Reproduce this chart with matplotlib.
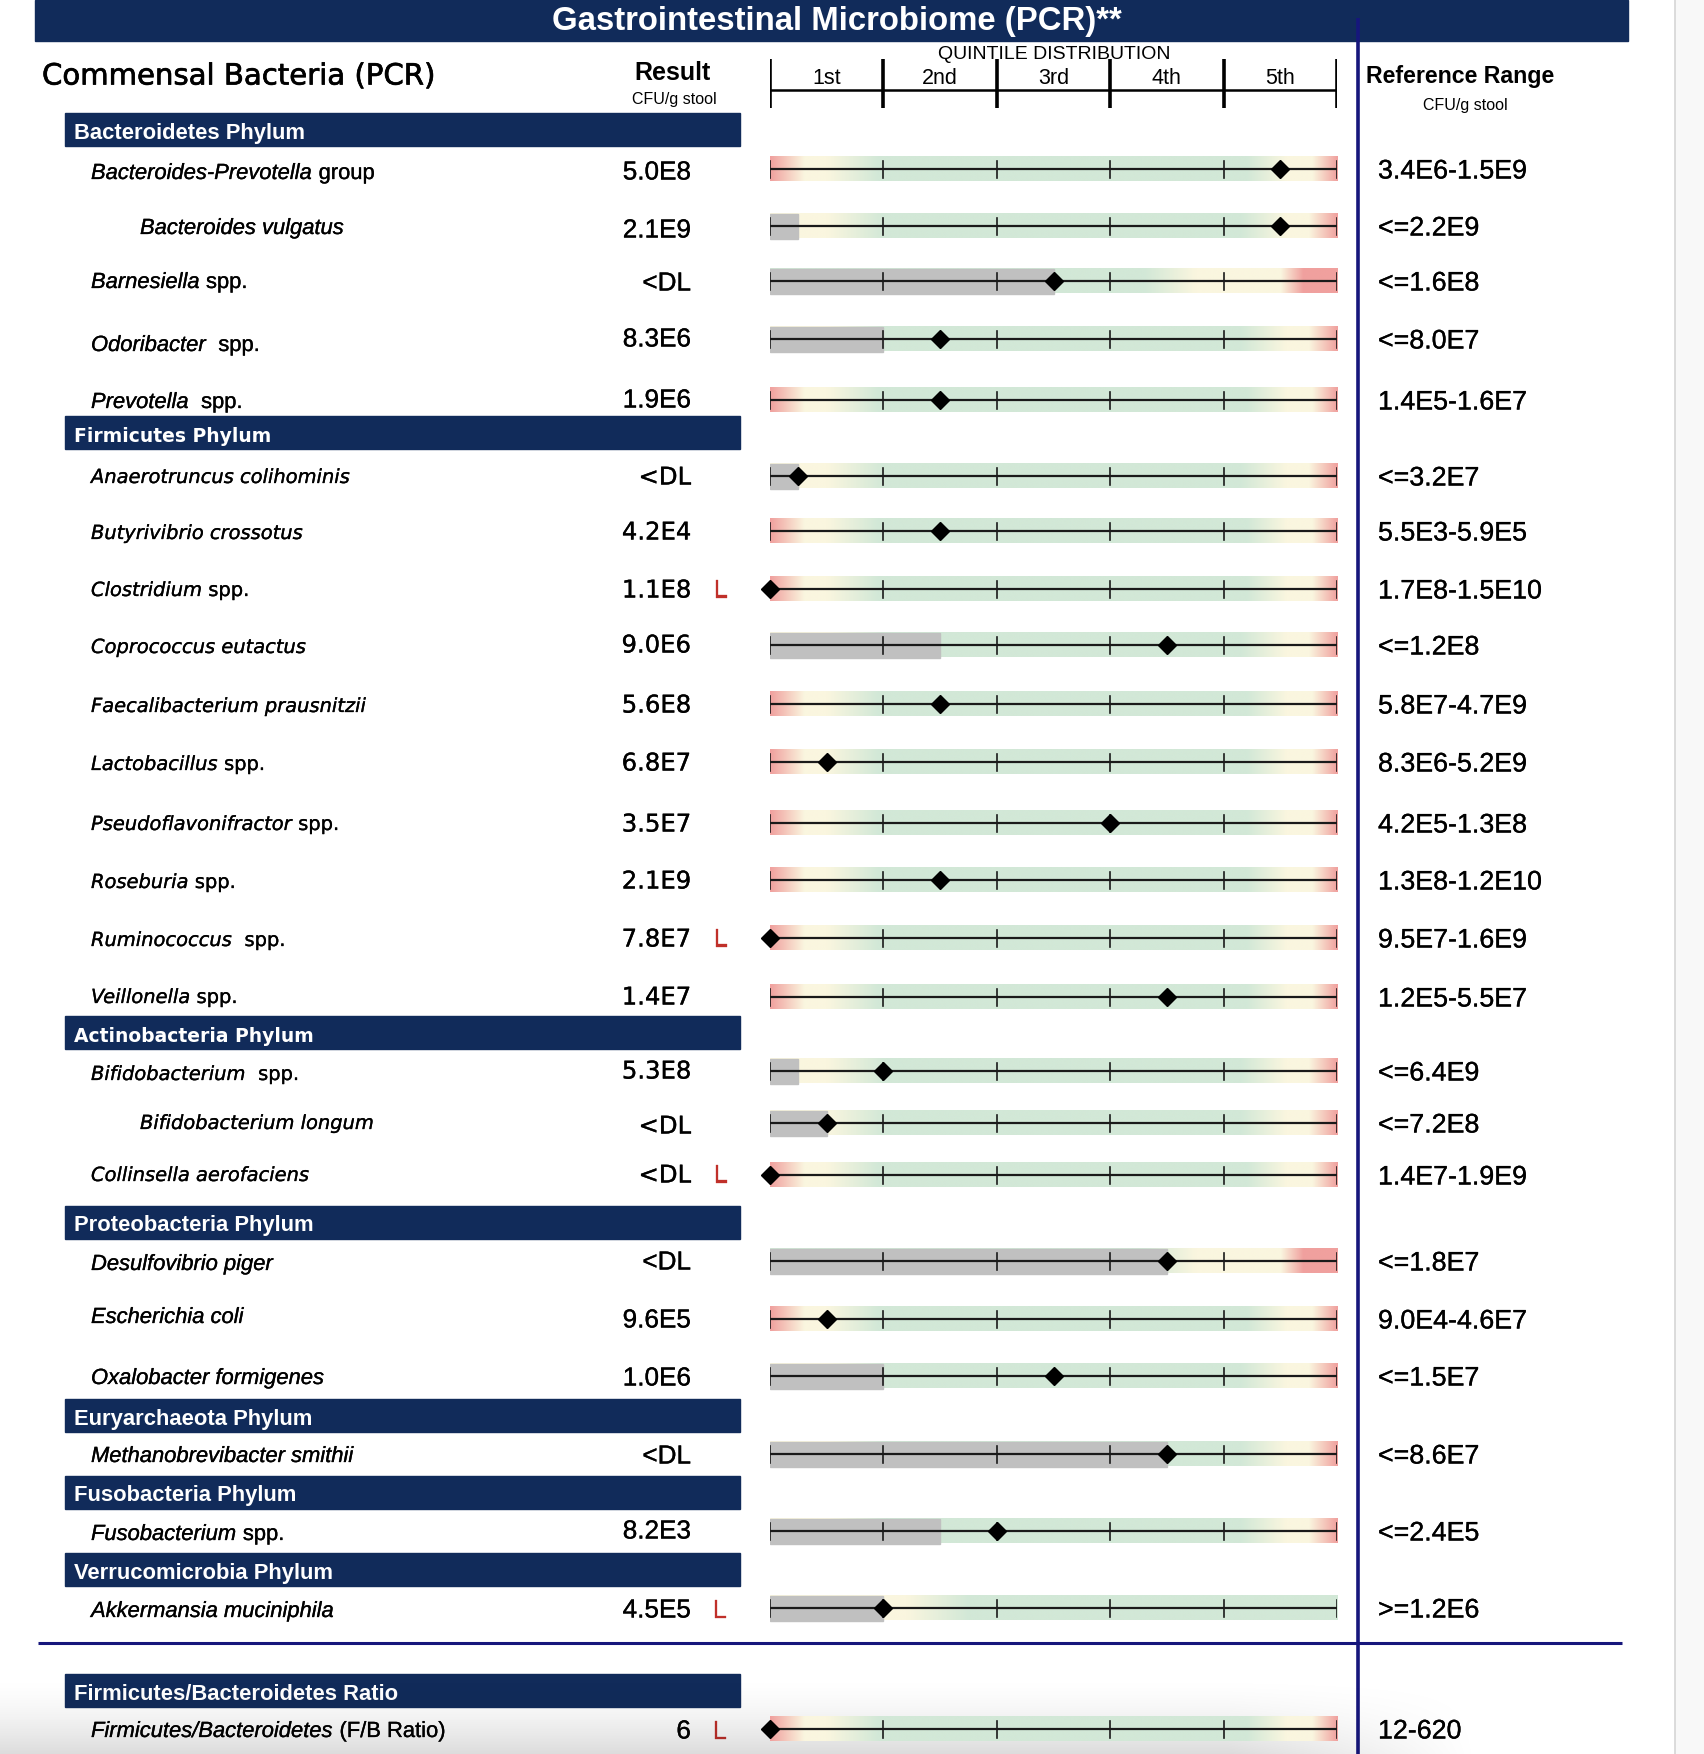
import matplotlib
matplotlib.use("Agg")
import matplotlib.pyplot as plt
import matplotlib.patheffects as pe
import numpy as np
from matplotlib.colors import to_rgb
from matplotlib.patches import Rectangle

# ---------------- data ----------------
title = "Gastrointestinal Microbiome (PCR)**"
section_title = "Commensal Bacteria (PCR)"
quintile_labels = ["1st", "2nd", "3rd", "4th", "5th"]

phyla = ["Bacteroidetes Phylum", "Firmicutes Phylum", "Actinobacteria Phylum",
         "Proteobacteria Phylum", "Euryarchaeota Phylum", "Fusobacteria Phylum",
         "Verrucomicrobia Phylum", "Firmicutes/Bacteroidetes Ratio"]

name_italic = ["Bacteroides-Prevotella", "Bacteroides vulgatus", "Barnesiella", "Odoribacter",
               "Prevotella", "Anaerotruncus colihominis", "Butyrivibrio crossotus", "Clostridium",
               "Coprococcus eutactus", "Faecalibacterium prausnitzii", "Lactobacillus",
               "Pseudoflavonifractor", "Roseburia", "Ruminococcus", "Veillonella",
               "Bifidobacterium", "Bifidobacterium longum", "Collinsella aerofaciens",
               "Desulfovibrio piger", "Escherichia coli", "Oxalobacter formigenes",
               "Methanobrevibacter smithii", "Fusobacterium", "Akkermansia muciniphila",
               "Firmicutes/Bacteroidetes"]
name_plain = [" group", "", " spp.", "  spp.", "  spp.", "", "", " spp.", "", "", " spp.",
              " spp.", " spp.", "  spp.", " spp.", "  spp.", "", "", "", "", "", "", " spp.",
              "", " (F/B Ratio)"]
name_phylum = [0, 0, 0, 0, 0, 1, 1, 1, 1, 1, 1, 1, 1, 1, 1, 2, 2, 2, 3, 3, 3, 4, 5, 6, 7]
name_sub = [0, 1, 0, 0, 0, 0, 0, 0, 0, 0, 0, 0, 0, 0, 0, 0, 1, 0, 0, 0, 0, 0, 0, 0, 0]

results = ["5.0E8", "2.1E9", "<DL", "8.3E6", "1.9E6", "<DL", "4.2E4", "1.1E8", "9.0E6",
           "5.6E8", "6.8E7", "3.5E7", "2.1E9", "7.8E7", "1.4E7", "5.3E8", "<DL", "<DL",
           "<DL", "9.6E5", "1.0E6", "<DL", "8.2E3", "4.5E5", "6"]
flags = ["", "", "", "", "", "", "", "L", "", "", "", "", "", "L", "", "", "", "L",
         "", "", "", "", "", "L", "L"]
# marker position on the quintile scale (0 = low end, 5 = high end)
quintile_pos = [4.5, 4.5, 2.5, 1.5, 1.5, 0.25, 1.5, 0.0, 3.5, 1.5, 0.5, 3.0, 1.5, 0.0, 3.5,
                1.0, 0.5, 0.0, 3.5, 0.5, 2.5, 3.5, 2.0, 1.0, 0.0]
# extent of the below-detection (grey) zone on the quintile scale
below_dl = [0, 0.25, 2.5, 1.0, 0, 0.25, 0, 0, 1.5, 0, 0, 0, 0, 0, 0, 0.25, 0.5, 0,
            3.5, 0, 1.0, 3.5, 1.5, 1.0, 0]
range_kind = ["both", "upper", "upper_high", "upper", "both", "upper", "both", "both", "upper",
              "both", "both", "both", "both", "both", "both", "upper", "upper", "both",
              "upper_high", "both", "upper", "upper", "upper", "lower", "both"]
ref_ranges = ["3.4E6-1.5E9", "<=2.2E9", "<=1.6E8", "<=8.0E7", "1.4E5-1.6E7", "<=3.2E7",
              "5.5E3-5.9E5", "1.7E8-1.5E10", "<=1.2E8", "5.8E7-4.7E9", "8.3E6-5.2E9",
              "4.2E5-1.3E8", "1.3E8-1.2E10", "9.5E7-1.6E9", "1.2E5-5.5E7", "<=6.4E9",
              "<=7.2E8", "1.4E7-1.9E9", "<=1.8E7", "9.0E4-4.6E7", "<=1.5E7", "<=8.6E7",
              "<=2.4E5", ">=1.2E6", "12-620"]

# ---------------- layout (pixels) & style ----------------
W, H = 1704, 1754
row_y = [169, 226, 281, 339, 400, 476, 531, 589, 645, 704, 762, 823, 880, 938, 997,
         1071, 1123, 1175, 1261, 1319, 1376, 1454, 1531, 1608, 1729]
name_y = [171, 226, 280, 343, 400, 475, 531, 588, 645, 704, 762, 822, 880, 938, 995,
          1072, 1121, 1173, 1262, 1315, 1376, 1454, 1532, 1609, 1729]
value_y = [170, 228, 281, 337, 398, 475, 530, 588, 643, 703, 761, 822, 879, 937, 995,
           1069, 1124, 1173, 1260, 1318, 1376, 1454, 1529, 1608, 1729]
header_top = [113, 416, 1016, 1206, 1399, 1476, 1553, 1674]
header_h = 33
verdana_phyla = {1, 2}
TDY = 2.5  # text baseline nudge

NAVY = "#112b5a"
LINE_BLUE = "#16167c"
GRAY = "#c0c0c0"
GREEN = "#d2e8d7"
CREAM = "#faf6df"
RED = "#f0a09e"
FLAG_RED = "#c0302a"
ARIAL = "Liberation Sans"
VERD = "DejaVu Sans"
HEAVY = [pe.withStroke(linewidth=0.22, foreground="black")]
HEAVY_R = [pe.withStroke(linewidth=0.22, foreground=FLAG_RED)]

stops = {
    "both": [(0, RED), (0.3, CREAM), (0.5, CREAM), (0.95, GREEN), (4.2, GREEN),
             (4.55, CREAM), (4.78, CREAM), (5.0, RED)],
    "upper": [(0, CREAM), (0.5, CREAM), (1.0, GREEN), (4.15, GREEN), (4.55, CREAM),
              (4.75, CREAM), (5.0, RED)],
    "upper_high": [(0, GREEN), (3.3, GREEN), (3.75, CREAM), (4.5, CREAM), (4.7, RED),
                   (5.0, RED)],
    "lower": [(0, CREAM), (1.2, CREAM), (1.75, GREEN), (5.0, GREEN)],
}


def gradient(kind, n=600):
    xs = np.linspace(0, 5, n)
    pts = stops[kind]
    px = [p[0] for p in pts]
    cols = np.array([to_rgb(p[1]) for p in pts])
    img = np.stack([np.interp(xs, px, cols[:, c]) for c in range(3)], axis=-1)
    return img[np.newaxis, :, :]


fig = plt.figure(figsize=(W / 100, H / 100), dpi=100)
ax = fig.add_axes([0, 0, 1, 1])
ax.set_xlim(0, W)
ax.set_ylim(H, 0)
ax.axis("off")

q0, q1 = 770, 1337
qax = fig.add_axes([q0 / W, 0, (q1 - q0) / W, 1])
qax.set_xlim(0, 5)
qax.set_ylim(H, 0)
qax.axis("off")

# right page edge
ax.add_patch(Rectangle((1675, 0), W - 1675, H, color="#f8f8f8", zorder=0))
ax.plot([1675, 1675], [0, H], color="#d6d6d6", lw=1.2, zorder=1)

# title bar
ax.add_patch(Rectangle((35, 0), 1628 - 35, 41, color=NAVY, zorder=1))
ax.text(837, 19 + TDY, title, color="white", fontsize=23.7, fontweight="bold", family=ARIAL,
        ha="center", va="center", zorder=3)

# column headings
ax.text(42, 74 + TDY, section_title, fontsize=21, family=VERD, ha="left", va="center",
        path_effects=[pe.withStroke(linewidth=0.5, foreground="black")])
ax.text(672, 70 + TDY, "Result", fontsize=18, fontweight="bold", family=ARIAL,
        ha="center", va="center")
ax.text(674, 97 + TDY, "CFU/g stool", fontsize=11.5, family=ARIAL, ha="center", va="center")
ax.text(1460, 74 + TDY, "Reference Range", fontsize=16.7, fontweight="bold", family=ARIAL,
        ha="center", va="center")
ax.text(1465, 103 + TDY, "CFU/g stool", fontsize=11.5, family=ARIAL, ha="center", va="center")
ax.text(1054, 52 + TDY, "QUINTILE DISTRIBUTION", fontsize=14, family=ARIAL,
        ha="center", va="center")

# quintile scale header
qax.plot([0, 5], [90, 90], color="black", lw=1.8, solid_capstyle="butt")
for k in range(6):
    qax.plot([k, k], [59, 108], color="black", lw=2.6, solid_capstyle="butt")
for k, lab in enumerate(quintile_labels):
    qax.text(k + 0.5, 76 + TDY, lab, fontsize=15.5, family=ARIAL, ha="center", va="center")

# blue separators
ax.plot([1358, 1358], [18, H], color=LINE_BLUE, lw=2.6, zorder=4, solid_capstyle="butt")
ax.plot([38, 1622], [1643, 1643], color=LINE_BLUE, lw=2.2, zorder=4, solid_capstyle="butt")

# phylum headers
for i, (ph, top) in enumerate(zip(phyla, header_top)):
    ax.add_patch(Rectangle((65, top), 740 - 65, header_h, color=NAVY, zorder=1))
    fam = VERD if i in verdana_phyla else ARIAL
    fs = 13.5 if i in verdana_phyla else 15.8
    ax.text(74, top + header_h / 2 + 1 + TDY, ph, color="white", fontsize=fs,
            fontweight="bold", family=fam, ha="left", va="center", zorder=3)

fig.canvas.draw()
renderer = fig.canvas.get_renderer()

bar_h = 25
for i, y in enumerate(row_y):
    ph = name_phylum[i]
    fam = VERD if ph in verdana_phyla else ARIAL
    nfs = 14 if ph in verdana_phyla else 15.8
    vfs = 17.5 if ph in verdana_phyla else 18.8
    x0 = 140 if name_sub[i] else 91
    ny_ = name_y[i] + TDY
    vy_ = value_y[i] + TDY
    t = ax.text(x0, ny_, name_italic[i], fontsize=nfs, family=fam, style="italic",
                ha="left", va="center", path_effects=HEAVY)
    if name_plain[i]:
        bb = t.get_window_extent(renderer)
        ax.text(bb.x1, ny_, name_plain[i], fontsize=nfs, family=fam, ha="left", va="center",
                path_effects=HEAVY)
    ax.text(691, vy_, results[i], fontsize=vfs, family=fam, ha="right", va="center",
            path_effects=HEAVY)
    if flags[i]:
        ax.text(720, vy_, flags[i], fontsize=vfs, family=fam, color=FLAG_RED,
                ha="center", va="center", path_effects=HEAVY_R)
    ax.text(1378, y + TDY, ref_ranges[i], fontsize=19.3, family=ARIAL, ha="left",
            va="center", path_effects=HEAVY)

    # quintile bar
    qax.imshow(gradient(range_kind[i]), extent=[0, 5, y + bar_h / 2, y - bar_h / 2],
               aspect="auto", interpolation="bilinear", zorder=1)
    if below_dl[i] > 0:
        qax.add_patch(Rectangle((0, y - bar_h / 2), below_dl[i], bar_h, color=GRAY, zorder=2))
    qax.plot([0, 5], [y, y], color="#1a1a1a", lw=1.6, zorder=3, solid_capstyle="butt")
    for k in range(6):
        qax.plot([k, k], [y - 8.5, y + 8.5], color="#1a1a1a", lw=1.2, zorder=3)
    qax.plot(quintile_pos[i], y, marker="D", ms=8.8, color="black", zorder=5,
             clip_on=False)

qax.set_xlim(0, 5)
qax.set_ylim(H, 0)

# soft shadow along the bottom edge
ny, nx = 80, 400
gy = np.linspace(0, 1, ny)[:, None]
gx = np.linspace(0, 1, nx)[None, :]
xs_pix = gx * 1500
fade_x = np.clip((1480 - xs_pix) / 250, 0, 1)
alpha = (gy ** 1.6) * 0.14 * fade_x
shadow = np.zeros((ny, nx, 4))
shadow[..., 3] = alpha
ax.imshow(shadow, extent=[0, 1500, H, H - 80], aspect="auto", zorder=6,
          interpolation="bilinear")
ax.set_xlim(0, W)
ax.set_ylim(H, 0)

fig.savefig("out.png", dpi=100)
